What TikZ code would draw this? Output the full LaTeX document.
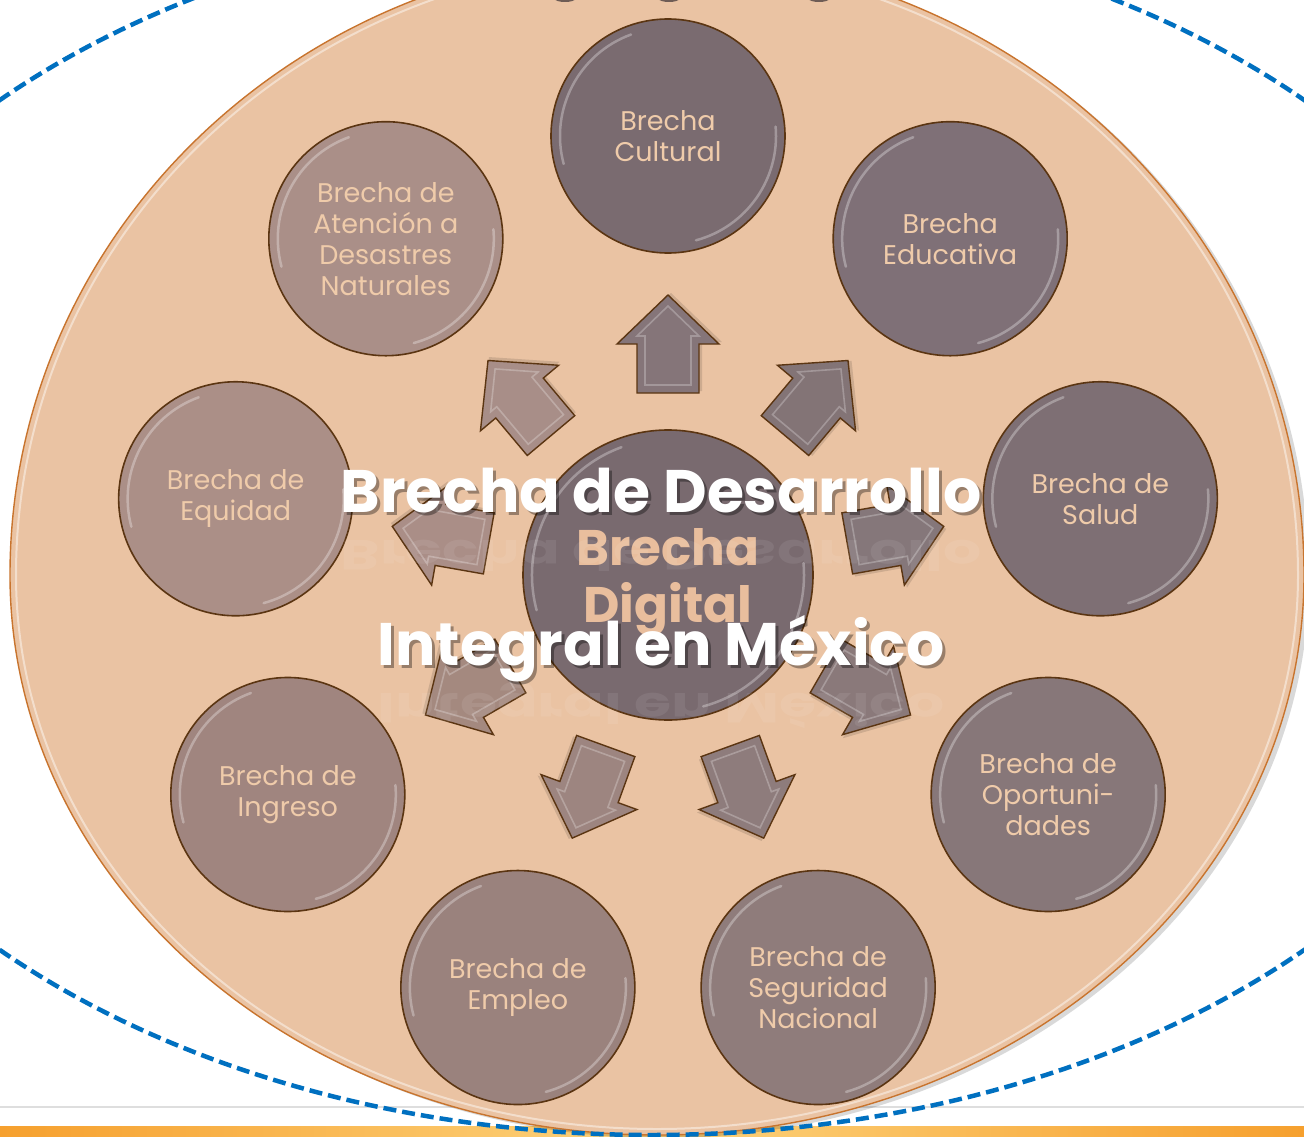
\documentclass[tikz,border=0pt]{standalone}
\usepackage{fontspec}
\setmainfont{Poppins}
\usetikzlibrary{calc,shadings}
\definecolor{peach}{HTML}{EAC3A3}
\definecolor{ptext}{HTML}{EFCBAA}
\definecolor{ctext}{HTML}{E9BE9D}
\definecolor{edgebrown}{HTML}{5B3512}
\definecolor{rimorange}{HTML}{C8742E}
\definecolor{dashblue}{HTML}{0070C0}
\definecolor{barorange}{HTML}{F6A02E}
\definecolor{barlight}{HTML}{FDD37C}
\definecolor{cCul}{HTML}{7A6B70}
\definecolor{cEdu}{HTML}{7F7077}
\definecolor{cSal}{HTML}{7E6F74}
\definecolor{cOpo}{HTML}{877779}
\definecolor{cSeg}{HTML}{8F7C7B}
\definecolor{cEmp}{HTML}{9A827D}
\definecolor{cIng}{HTML}{A0857F}
\definecolor{cEqu}{HTML}{AB8F87}
\definecolor{cAte}{HTML}{AA8F88}
\definecolor{cCen}{HTML}{796A6F}
\tikzset{
  gapcircle/.style={circle, draw=edgebrown, line width=1.6pt, minimum size=234pt,
    inner sep=0pt, text=ptext, align=center, font=\fontsize{27}{31}\selectfont},
  centercircle/.style={circle, draw=edgebrown, line width=1.6pt, minimum size=290pt, inner sep=0pt},
  centertext/.style={text=ctext, font=\bfseries\fontsize{50}{57}\selectfont, inner sep=0pt, anchor=base},
  blockarrow/.style={draw=edgebrown, line width=1.4pt, line join=miter},
  bevelline/.style={draw=white, draw opacity=0.25, line width=1.6pt},
  titletext/.style={text=white, font=\bfseries\fontsize{60}{66}\selectfont, inner sep=0pt},
  titleshadow/.style={text=black, text opacity=0.35, font=\bfseries\fontsize{60}{66}\selectfont, inner sep=0pt},
  gloss/.style={white, opacity=0.3, line width=2.5pt, line cap=round},
}
\begin{document}
\begin{tikzpicture}[x=1pt,y=1pt]
\useasboundingbox (0,0) rectangle (1304,-1137);
\clip (0,0) rectangle (1304,-1137);
\fill[white] (0,0) rectangle (1304,-1137);
% faint gray line and orange bar
\draw[color={rgb,255:red,222;green,222;blue,222}, line width=2.5pt] (0,-1107) -- (1304,-1107);
\shade[left color=barorange, right color=barorange, middle color=barlight] (0,-1126) rectangle (1304,-1137);
% egg shaped background
\fill[black, opacity=0.15] (15,-578) arc[start angle=180, end angle=0, x radius=647, y radius=620]
   arc[start angle=0, end angle=-180, x radius=647, y radius=560] -- cycle;
\fill[peach] (10,-575) arc[start angle=180, end angle=0, x radius=647, y radius=620]
   arc[start angle=0, end angle=-180, x radius=647, y radius=560] -- cycle;
\draw[white, opacity=0.45, line width=2pt] (16,-575) arc[start angle=180, end angle=0, x radius=641, y radius=614]
   arc[start angle=0, end angle=-180, x radius=641, y radius=554] -- cycle;
\draw[rimorange, line width=1.4pt] (10,-575) arc[start angle=180, end angle=0, x radius=647, y radius=620]
   arc[start angle=0, end angle=-180, x radius=647, y radius=560] -- cycle;
% small dark shapes at the top edge
\fill[color={rgb,255:red,110;green,92;blue,85}] (565,1) ellipse[x radius=10, y radius=3];
\fill[color={rgb,255:red,110;green,92;blue,85}] (669,1) ellipse[x radius=10, y radius=3];
\fill[color={rgb,255:red,110;green,92;blue,85}] (819,1) ellipse[x radius=10, y radius=3];
% centre
\coordinate (C) at (668,-575);
% outer circles
\foreach \nm/\ang/\col/\txt in {
  cultural/90/cCul/{Brecha\\Cultural},
  educativa/50/cEdu/{Brecha\\Educativa},
  salud/10/cSal/{Brecha de\\Salud},
  oportunidades/-30/cOpo/{Brecha de\\Oportuni-\\dades},
  seguridad/-70/cSeg/{Brecha de\\Seguridad\\Nacional},
  empleo/-110/cEmp/{Brecha de\\Empleo},
  ingreso/-150/cIng/{Brecha de\\Ingreso},
  equidad/170/cEqu/{Brecha de\\Equidad},
  atencion/130/cAte/{Brecha de\\Atención a\\Desastres\\Naturales}}{
  \node[gapcircle, fill=\col] (\nm) at ($(C)+(\ang:439)$) {\txt};
  \draw[gloss] ($(\nm.center)+(110:108)$) arc[start angle=110, end angle=195, radius=108];
  \draw[gloss] ($(\nm.center)+(-75:108)$) arc[start angle=-75, end angle=5, radius=108];
}
% central circle
\node[centercircle, fill=cCen] (digital) at (C) {};
\node[centertext] (digitaltext1) at (668,-565) {Brecha};
\node[centertext] (digitaltext2) at (668,-622) {Digital};
\draw[gloss] ($(digital.center)+(110:136)$) arc[start angle=110, end angle=195, radius=136];
\draw[gloss] ($(digital.center)+(-75:136)$) arc[start angle=-75, end angle=5, radius=136];
% block arrows
\foreach \ang/\col in {90/{rgb,255:red,133;green,117;blue,121}, 50/{rgb,255:red,131;green,116;blue,118},
  10/{rgb,255:red,133;green,119;blue,122}, -30/{rgb,255:red,138;green,121;blue,122},
  -70/{rgb,255:red,142;green,124;blue,124}, -110/{rgb,255:red,157;green,133;blue,128},
  -150/{rgb,255:red,164;green,137;blue,127}, 170/{rgb,255:red,170;green,142;blue,135},
  130/{rgb,255:red,168;green,142;blue,136}}{
  \begin{scope}[shift={($(C)+(\ang:231)$)}, rotate=\ang]
    \fill[black, opacity=0.12] (-47,-34) -- (2,-34) -- (2,-54) -- (51,-3) -- (2,48) -- (2,28) -- (-47,28) -- cycle;
    \path[blockarrow, fill=\col] (-49,-31) -- (0,-31) -- (0,-51) -- (49,0) -- (0,51) -- (0,31) -- (-49,31) -- cycle;
    \path[bevelline] (-41,-23) -- (8,-23) -- (8,-31) -- (38,0) -- (8,31) -- (8,23) -- (-41,23) -- cycle;
  \end{scope}
}
% title text with shadow and faint reflection
\node[titletext, anchor=base, yscale=-0.7, text opacity=0.08] (refl1) at (661,-540) {Brecha de Desarrollo};
\node[titletext, anchor=base, yscale=-0.7, text opacity=0.08] (refl2) at (661,-693) {Integral en México};
\node[titleshadow, anchor=base] (sh1) at (664,-515) {Brecha de Desarrollo};
\node[titleshadow, anchor=base] (sh2) at (664,-668) {Integral en México};
\node[titletext, anchor=base] (title1) at (661,-512) {Brecha de Desarrollo};
\node[titletext, anchor=base] (title2) at (661,-665) {Integral en México};
% dashed blue ellipse
\draw[dashblue, line width=4.5pt, dash pattern=on 13pt off 6pt] (652,-525) ellipse[x radius=909, y radius=610];
\end{tikzpicture}
\end{document}
